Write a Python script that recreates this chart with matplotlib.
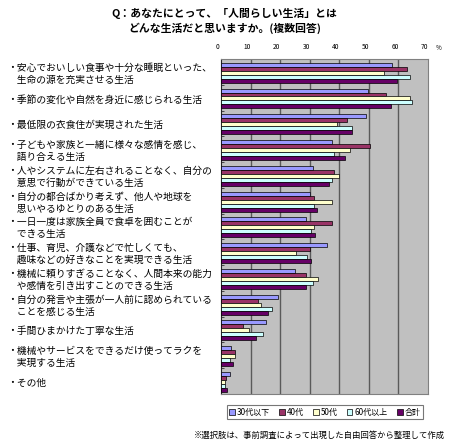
import matplotlib
matplotlib.use("Agg")
import matplotlib.pyplot as plt
import matplotlib.transforms as mtransforms
from matplotlib.patches import Patch

plt.rcParams['font.family'] = ['Noto Sans CJK JP', 'DejaVu Sans']

categories = [
    "・安心でおいしい食事や十分な睡眠といった、\n　生命の源を充実させる生活",
    "・季節の変化や自然を身近に感じられる生活",
    "・最低限の衣食住が実現された生活",
    "・子どもや家族と一緒に様々な感情を感じ、\n　語り合える生活",
    "・人やシステムに左右されることなく、自分の\n　意思で行動ができている生活",
    "・自分の都合ばかり考えず、他人や地球を\n　思いやるゆとりのある生活",
    "・一日一度は家族全員で食卓を囲むことが\n　できる生活",
    "・仕事、育児、介護などで忙しくても、\n　趣味などの好きなことを実現できる生活",
    "・機械に頼りすぎることなく、人間本来の能力\n　や感情を引き出すことのできる生活",
    "・自分の発言や主張が一人前に認められている\n　ことを感じる生活",
    "・手間ひまかけた丁寧な生活",
    "・機械やサービスをできるだけ使ってラクを\n　実現する生活",
    "・その他",
]

series_names = ["30代以下", "40代", "50代", "60代以上", "合計"]
s_30 = [57.8, 49.8, 49.0, 37.7, 31.1, 30.2, 28.7, 35.7, 25.1, 19.3, 15.1, 3.4, 2.9]
s_40 = [62.9, 55.7, 42.6, 50.5, 38.3, 31.6, 37.5, 30.0, 28.9, 12.6, 7.4, 4.8, 1.7]
s_50 = [55.2, 63.8, 39.3, 43.6, 39.8, 37.5, 31.5, 25.5, 32.8, 13.5, 9.4, 4.9, 1.2]
s_60 = [63.8, 64.7, 44.4, 38.3, 37.5, 31.6, 30.5, 29.1, 31.1, 17.2, 14.2, 3.1, 1.2]
s_total = [59.5, 57.4, 44.4, 42.1, 36.4, 32.3, 31.7, 30.5, 28.9, 16.0, 11.9, 3.9, 2.0]
series = [s_30, s_40, s_50, s_60, s_total]
colors = ["#9999FF", "#993366", "#FFFFCC", "#CCFFFF", "#660066"]

x_ticks = [0, 10, 20, 30, 40, 50, 60, 70]

W, H = 450, 444
fig = plt.figure(figsize=(W / 100, H / 100), dpi=100)
ax = fig.add_axes([221 / W, 1 - 394 / H, (428 - 221) / W, (394 - 59) / H])
ax.set_facecolor("#C0C0C0")

n = len(categories)
bar_h = 0.155
start = 0.145
for k, (vals, col) in enumerate(zip(series, colors)):
    ys = [i + start + (k + 0.5) * bar_h for i in range(n)]
    ax.barh(ys, vals, height=bar_h, color=col, edgecolor="black", linewidth=0.5, zorder=3)

ax.set_xlim(0, 70)
ax.set_ylim(n, 0)
for xv in x_ticks[1:-1]:
    ax.axvline(xv, color="#5a5a5a", linewidth=1.0, zorder=1)

ax.set_xticks([])
ax.set_yticks(range(n + 1))
ax.set_yticklabels([])
ax.tick_params(axis="y", direction="in", length=2.5, width=0.6, color="#333333")
for side in ["top", "right", "bottom"]:
    ax.spines[side].set_color("#808080")
    ax.spines[side].set_linewidth(0.8)
ax.spines["left"].set_color("#222222")
ax.spines["left"].set_linewidth(0.8)

# top tick labels
tb = mtransforms.blended_transform_factory(ax.transData, fig.transFigure)
for xv in x_ticks:
    ax.text(xv - 1.1, 1 - 47 / H, str(xv), transform=tb, ha="center", va="center",
            fontsize=4.8, clip_on=False)
fig.text(439 / W, 1 - 48 / H, "%", ha="center", va="center", fontsize=4.5)

# category labels
lt = mtransforms.blended_transform_factory(fig.transFigure, ax.transData)
for i, lab in enumerate(categories):
    ax.text(7 / W, i + 0.5 + 0.07, lab, transform=lt, ha="left", va="center",
            fontsize=7.0, linespacing=1.25, clip_on=False)

# title
fig.text(224 / W, 1 - 13 / H, "Q：あなたにとって、「人間らしい生活」とは", ha="center", va="center",
         fontsize=7.8, fontweight="bold")
fig.text(225 / W, 1 - 28 / H, "どんな生活だと思いますか。(複数回答)", ha="center", va="center",
         fontsize=7.8, fontweight="bold")

# legend
handles = [Patch(facecolor=c, edgecolor="black", linewidth=0.5) for c in colors]
leg = fig.legend(handles, series_names, loc="center", bbox_to_anchor=(325 / W, 1 - 412 / H),
                 ncol=5, fontsize=5.8, handlelength=0.7, handleheight=0.7, handletextpad=0.3,
                 columnspacing=1.1, frameon=True, fancybox=False, borderpad=0.3)
leg.get_frame().set_edgecolor("#555555")
leg.get_frame().set_linewidth(0.8)

fig.text(445 / W, 1 - 435 / H, "※選択肢は、事前調査によって出現した自由回答から整理して作成",
         ha="right", va="center", fontsize=6.0)

fig.savefig("out.png", dpi=100)
